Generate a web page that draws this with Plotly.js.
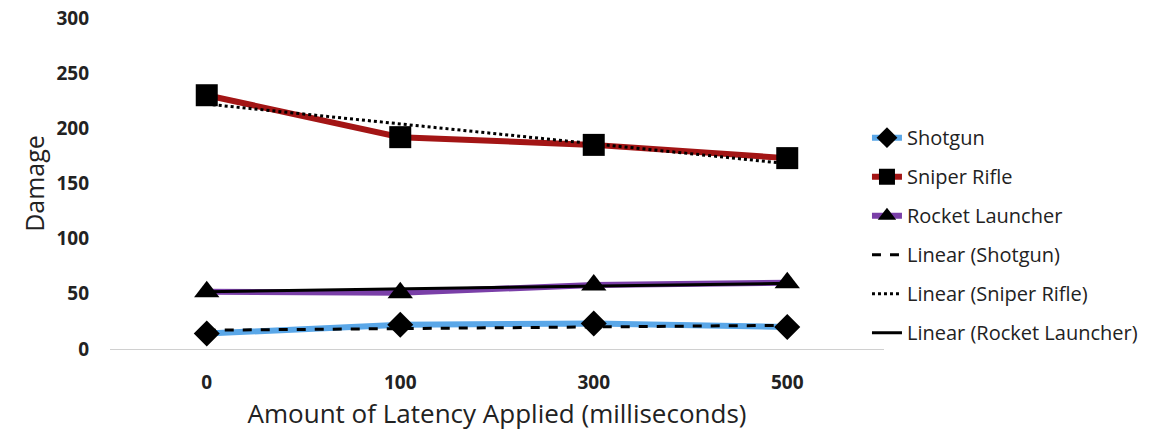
<!DOCTYPE html>
<html>
<head>
<meta charset="utf-8">
<script src="https://cdn.plot.ly/plotly-3.0.1.min.js"></script>
<style>html,body{margin:0;padding:0;background:#fff;}#chart{width:1171px;height:435px;}</style>
</head>
<body>
<div id="chart"></div>
<script>
const categories = ["0", "100", "300", "500"];
const shotgun = [14, 22, 23, 20];
const sniperRifle = [230, 192, 185, 173];
const rocketLauncher = [52, 51, 58, 60];
const linearShotgun = [17, 18.5, 20, 21.5];
const linearSniperRifle = [222, 204, 186, 168];
const linearRocketLauncher = [52, 54.5, 57, 59.5];
const seriesNames = ["Shotgun", "Sniper Rifle", "Rocket Launcher", "Linear (Shotgun)", "Linear (Sniper Rifle)", "Linear (Rocket Launcher)"];
const yTicks = [0, 50, 100, 150, 200, 250, 300];

const FONT = "Open Sans, Liberation Sans, sans-serif";

const traces = [
  {x: categories, y: shotgun, name: seriesNames[0], mode: "lines+markers",
   line: {color: "#5aa7e8", width: 6}, marker: {symbol: "diamond", size: 20, color: "#000"}, legendgroup: "a"},
  {x: categories, y: sniperRifle, name: seriesNames[1], mode: "lines+markers",
   line: {color: "#a31515", width: 6}, marker: {symbol: "square", size: 22, color: "#000"}, legendgroup: "b"},
  {x: categories, y: rocketLauncher, name: seriesNames[2], mode: "lines+markers",
   line: {color: "#7a3fa8", width: 6}, marker: {symbol: "triangle-up", size: 22, color: "#000"}, legendgroup: "c"},
  {x: categories, y: linearShotgun, name: seriesNames[3], mode: "lines",
   line: {color: "#000", width: 3, dash: "dash"}, legendgroup: "d"},
  {x: categories, y: linearSniperRifle, name: seriesNames[4], mode: "lines",
   line: {color: "#000", width: 3, dash: "dot"}, legendgroup: "e"},
  {x: categories, y: linearRocketLauncher, name: seriesNames[5], mode: "lines",
   line: {color: "#000", width: 3}, legendgroup: "f"}
];

const layout = {
  width: 1171, height: 435,
  margin: {l: 110, r: 287, t: 18, b: 86},
  paper_bgcolor: "#fff", plot_bgcolor: "#fff",
  font: {family: FONT, color: "#222"},
  showlegend: true,
  legend: {x: 0.978, xanchor: "left", y: 0.344, yanchor: "middle", font: {size: 20, family: FONT, color: "#222"},
           traceorder: "grouped", tracegroupgap: 10, itemwidth: 30, bgcolor: "rgba(0,0,0,0)"},
  xaxis: {type: "category", range: [-0.5, 3.5], showgrid: false, zeroline: false,
          showline: false, ticks: "", ticklabelstandoff: 20,
          tickfont: {size: 19, family: FONT, weight: "bold", color: "#222"},
          title: {text: "Amount of Latency Applied (milliseconds)", font: {size: 26, family: FONT, color: "#222"}, standoff: 8},
          fixedrange: true},
  yaxis: {range: [0, 300], tickvals: yTicks, showgrid: false, zeroline: true, zerolinecolor: "#d0d0d0", zerolinewidth: 1,
          showline: false, ticks: "", ticklabelstandoff: 20,
          tickfont: {size: 19, family: FONT, weight: "bold", color: "#222"},
          title: {text: "Damage", font: {size: 25, family: FONT, color: "#222"}, standoff: 4},
          fixedrange: true}
};

Plotly.newPlot("chart", traces, layout, {displayModeBar: false, staticPlot: true});
</script>
</body>
</html>
